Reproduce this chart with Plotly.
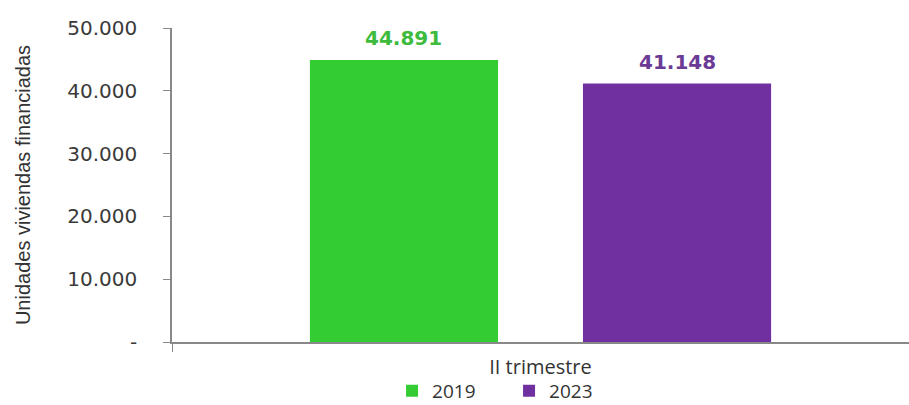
import plotly.graph_objects as go

categories = ["II trimestre"]
series_names = ["2019", "2023"]
values_2019 = [44891]
values_2023 = [41148]
label_2019 = ["44.891"]
label_2023 = ["41.148"]
y_tickvals = [0, 10000, 20000, 30000, 40000, 50000]
y_ticktext = ["-", "10.000", "20.000", "30.000", "40.000", "50.000"]

green = "#33cc33"
purple = "#7030a0"
bargap = 0.259
bargroupgap = 0.311

fig = go.Figure()
fig.add_trace(go.Bar(
    x=categories, y=values_2019, name=series_names[0],
    marker=dict(color=green, line=dict(width=0)),
))
fig.add_trace(go.Bar(
    x=categories, y=values_2023, name=series_names[1],
    marker=dict(color=purple, line=dict(width=0)),
))

# value labels above bars (positioned at category index +/- quarter group width)
half = (1 - bargap) / 4
for vals, labs, sign, col in [(values_2019, label_2019, -1, "#3dbb3d"),
                              (values_2023, label_2023, 1, "#6a3a96")]:
    for i, (v, t) in enumerate(zip(vals, labs)):
        fig.add_annotation(x=i + sign * half, y=v, text=t, showarrow=False,
                           yanchor="middle", yshift=22,
                           font=dict(family="DejaVu Sans", size=20, color=col, weight="bold"))

fig.update_layout(
    width=909, height=405,
    margin=dict(l=172, r=0, t=28, b=63, autoexpand=False),
    paper_bgcolor="white", plot_bgcolor="white",
    barmode="group", bargap=bargap, bargroupgap=bargroupgap,
    showlegend=True,
    legend=dict(orientation="h", xref="container", x=0.56, xanchor="center",
                yref="container", y=0.035, yanchor="middle",
                bgcolor="rgba(0,0,0,0)",
                font=dict(family="Open Sans", size=19, color="#333"),
                itemwidth=30, entrywidth=72),
    font=dict(family="DejaVu Sans", color="#333"),
)
fig.update_yaxes(
    range=[0, 50000], tickvals=y_tickvals, ticktext=y_ticktext,
    showgrid=False, zeroline=False,
    showline=True, linecolor="#888", linewidth=1.5,
    ticks="outside", ticklen=7, tickcolor="#888", ticklabelstandoff=22,
    tickfont=dict(family="DejaVu Sans", size=20, color="#3a3a3a"),
    title=dict(text="Unidades viviendas financiadas", standoff=31,
               font=dict(family="Liberation Sans Narrow, Liberation Sans", size=20, color="#333")),
)
fig.update_xaxes(
    showline=True, linecolor="#888", linewidth=1.5,
    ticks="outside", ticklen=8, tickcolor="#888", tickson="boundaries",
    ticklabelstandoff=6,
    tickfont=dict(family="Open Sans", size=20, color="#333"),
    showgrid=False,
)

fig.write_html("out.html")
